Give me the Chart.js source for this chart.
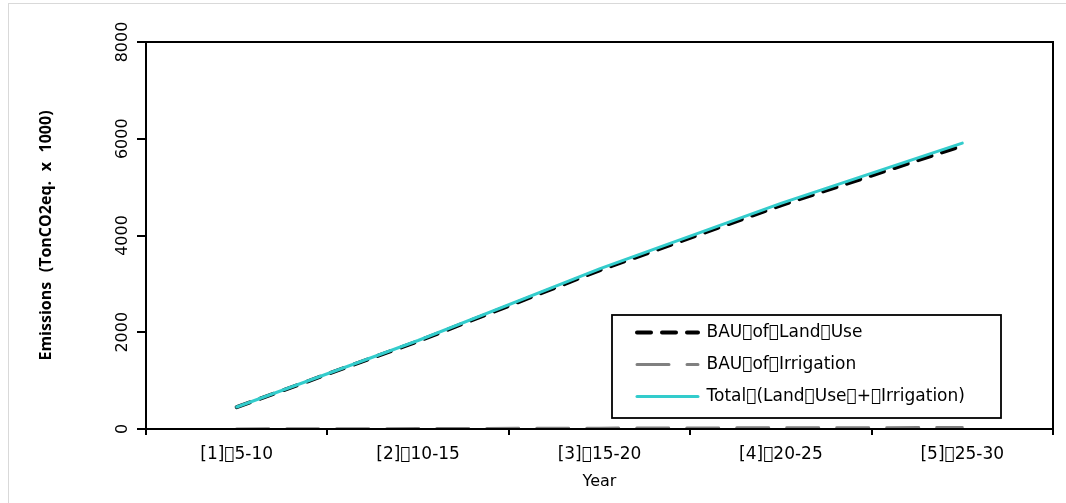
<!DOCTYPE html>
<html><head><meta charset="utf-8">
<script src="https://cdn.jsdelivr.net/npm/chart.js@4.4.1/dist/chart.umd.min.js"></script>
<style>
html,body{margin:0;padding:0;background:#fff;}
#wrap{position:relative;width:1066px;height:503px;overflow:hidden;}
#frame{position:absolute;left:8px;top:3px;width:1100px;height:600px;border-left:1px solid #d9d9d9;border-top:1px solid #d9d9d9;}
canvas{position:absolute;left:0;top:0;}
</style></head><body>
<div id="wrap"><div id="frame"></div><canvas id="c" width="1066" height="503"></canvas></div>
<script>
const G = '\uF020';
const categories = ['[1]' + G + '5-10', '[2]' + G + '10-15', '[3]' + G + '15-20', '[4]' + G + '20-25', '[5]' + G + '25-30'];
const landUse = [452, 1815, 3280, 4625, 5855];
const irrigation = [2, 8, 18, 25, 30];
const total = [455, 1830, 3310, 4665, 5910];
const yTicks = [0, 2000, 4000, 6000, 8000];
const seriesNames = ['BAU' + G + 'of' + G + 'Land' + G + 'Use', 'BAU' + G + 'of' + G + 'Irrigation', 'Total' + G + '(Land' + G + 'Use' + G + '+' + G + 'Irrigation)'];
const yTitle = 'Emissions' + G + '(TonCO2eq.' + G + 'x' + G + '1000)';
const xTitle = 'Year';

const FONT = 'DejaVu Sans';

const framePlugin = {
  id: 'framePlugin',
  afterLayout(chart) {
    const lg = chart.legend, ca = chart.chartArea;
    if (!lg) return;
    const w = 431, h = 120;
    lg.left = ca.right - w; lg.right = ca.right - 40;
    lg.top = ca.bottom - h; lg.bottom = ca.bottom - 8;
    lg.width = lg.right - lg.left; lg.height = lg.bottom - lg.top;
  },
  afterDraw(chart) {
    const ctx = chart.ctx, ca = chart.chartArea, lg = chart.legend;
    ctx.save();
    ctx.strokeStyle = '#000';
    ctx.lineWidth = 2;
    ctx.setLineDash([]);
    ctx.strokeRect(ca.left, ca.top, ca.right - ca.left, ca.bottom - ca.top);
    if (lg) {
      ctx.lineWidth = 1.8;
      const l = lg.left - 10, t = lg.top + 6, r = ca.right - 52, b = ca.bottom - 11;
      ctx.strokeRect(l, t, r - l, b - t);
    }
    ctx.restore();
  }
};

new Chart(document.getElementById('c'), {
  type: 'line',
  data: {
    labels: categories,
    datasets: [
      { label: seriesNames[0], data: landUse, borderColor: '#000000', backgroundColor: '#000000', borderWidth: 4, borderDash: [14, 11], borderCapStyle: 'round', pointRadius: 0, pointRotation: 180, tension: 0, order: 1 },
      { label: seriesNames[1], data: irrigation, borderColor: '#808080', backgroundColor: '#808080', borderWidth: 3, borderDash: [32, 18], borderCapStyle: 'round', pointRadius: 0, pointRotation: 180, tension: 0, order: 2 },
      { label: seriesNames[2], data: total, borderColor: '#33CCCC', backgroundColor: '#33CCCC', borderWidth: 3, borderCapStyle: 'round', pointRadius: 0, pointRotation: 180, tension: 0, order: 0 }
    ]
  },
  options: {
    responsive: false,
    animation: false,
    layout: { padding: { left: 0, top: 42, right: 13, bottom: 0 } },
    plugins: {
      title: { display: false },
      tooltip: { enabled: false },
      legend: {
        position: 'chartArea',
        align: 'start',
        labels: {
          usePointStyle: true,
          pointStyle: 'line',
          pointStyleWidth: 61,
          boxHeight: 17,
          padding: 15,
          color: '#000',
          font: { family: FONT, size: 17 },
          sort: (a, b) => a.datasetIndex - b.datasetIndex,
          generateLabels(chart) {
            const items = Chart.defaults.plugins.legend.labels.generateLabels(chart);
            items.forEach(it => {
              const ds = chart.data.datasets[it.datasetIndex];
              it.lineDash = ds.borderDash || [];
              it.lineCap = ds.borderCapStyle;
              it.lineWidth = ds.borderWidth;
              it.strokeStyle = ds.borderColor;
              it.pointStyle = 'line';
              it.rotation = 180;
            });
            return items;
          }
        }
      }
    },
    scales: {
      x: {
        type: 'category',
        offset: true,
        grid: { display: true, offset: true, drawOnChartArea: false, drawTicks: true, tickLength: 6, color: '#000', lineWidth: 2 },
        border: { display: false },
        ticks: { color: '#000', font: { family: FONT, size: 17 }, padding: 9, maxRotation: 0, minRotation: 0, autoSkip: false },
        title: { display: true, text: xTitle, color: '#000', font: { family: FONT, size: 16 }, padding: { top: 0, bottom: 12 } },
        afterFit(scale) { scale.height = 74; }
      },
      y: {
        min: 0, max: 8000,
        afterBuildTicks(scale) { scale.ticks = yTicks.map(v => ({ value: v })); },
        grid: { display: true, drawOnChartArea: false, drawTicks: true, tickLength: 9, color: '#000', lineWidth: 2 },
        border: { display: false },
        ticks: { color: '#000', font: { family: FONT, size: 16 }, padding: -6, minRotation: 90, maxRotation: 90, crossAlign: 'center', callback: v => String(v) },
        title: { display: true, text: yTitle, color: '#000', font: { family: 'Open Sans', size: 16, weight: 'bold' }, padding: { top: 37, bottom: 0 } },
        afterFit(scale) { scale.width = 146; }
      }
    }
  },
  plugins: [framePlugin]
});
</script>
</body></html>
